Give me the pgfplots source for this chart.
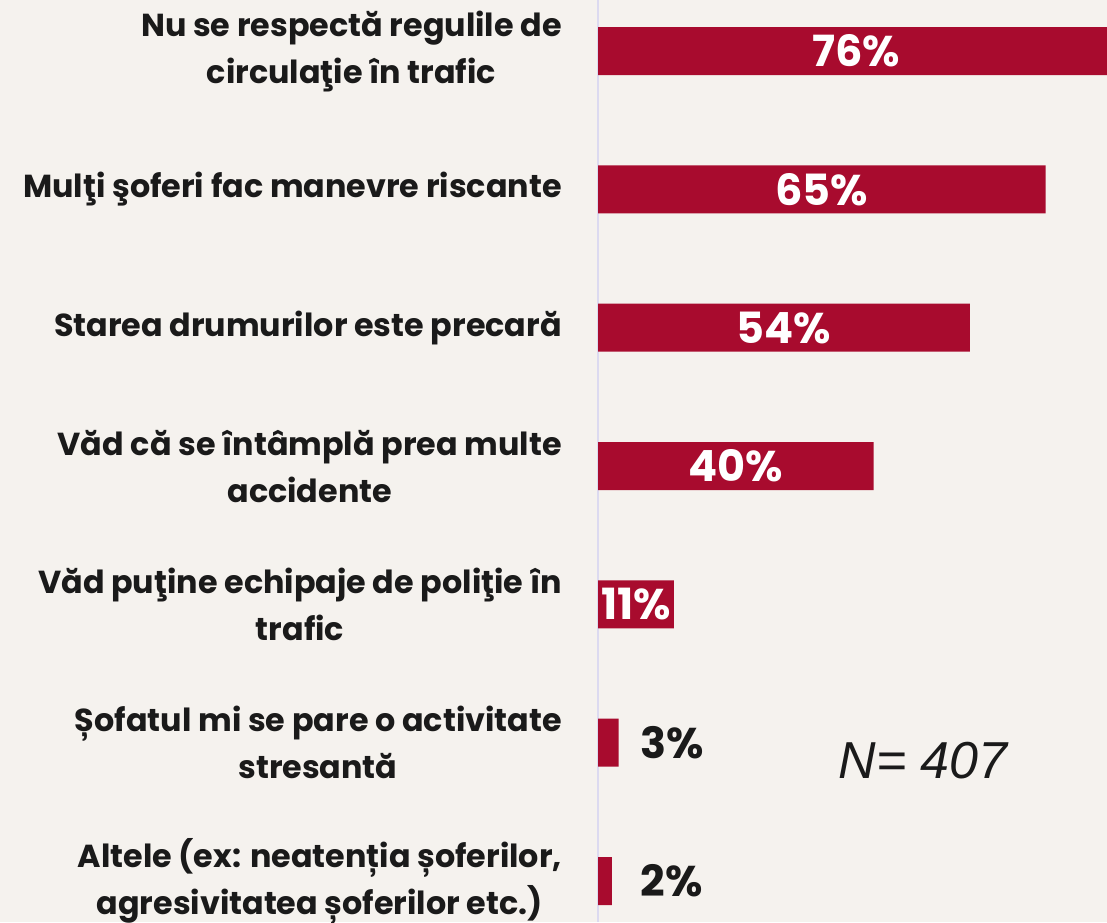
\documentclass[border=0pt]{standalone}
\usepackage{pgfplots}
\pgfplotsset{compat=1.18}
\usepackage{fontspec}
\newfontfamily\pop{Poppins}
\newfontfamily\nfont{Liberation Sans}
\definecolor{bg}{RGB}{245,242,238}
\definecolor{barc}{RGB}{168,11,46}
\definecolor{axc}{RGB}{220,218,240}
\definecolor{txt}{RGB}{26,26,26}
\begin{document}
\begin{tikzpicture}
\useasboundingbox (0,0) rectangle (1107pt,922pt);
\fill[bg] (0,0) rectangle (1107pt,922pt);
\begin{axis}[
  at={(598pt,0pt)}, anchor=south west,
  width=509pt, height=922pt, scale only axis,
  xmin=0, xmax=73.9,
  ymin=-0.369, ymax=6.296, y dir=reverse,
  axis x line=none,
  axis y line*=left,
  y axis line style={draw=axc, line width=1.5pt, -},
  xtick=\empty,
  ytick={0,1,2,3,4,5,6},
  major tick length=0pt,
  yticklabels={{Nu se respectă regulile de\\circulaţie în trafic},
               {Mulţi şoferi fac manevre riscante},
               {Starea drumurilor este precară},
               {Văd că se întâmplă prea multe\\accidente},
               {Văd puţine echipaje de poliţie în\\trafic},
               {Șofatul mi se pare o activitate\\stresantă},
               {Altele (ex: neatenția șoferilor,\\agresivitatea șoferilor etc.)}},
  yticklabel style={font=\pop\bfseries\fontsize{31.8}{47}\selectfont, text=txt,
                    align=center, anchor=east, inner sep=0pt, xshift=-36pt},
]
\addplot[xbar, bar shift=0pt, bar width=48pt, fill=barc, draw=none]
  coordinates {(76,0) (65,1) (54,2) (40,3) (11,4) (3,5) (2,6)};
\addplot[draw=none, mark=none, nodes near coords, point meta=explicit symbolic,
  nodes near coords style={text=white, anchor=center, inner sep=0pt,
    font=\pop\bfseries\fontsize{43}{43}\selectfont}]
  coordinates {(37.5,0)[76\%] (32.5,1)[65\%] (27,2)[54\%] (20,3)[40\%] (5.5,4)[11\%]};
\addplot[draw=none, mark=none, nodes near coords, point meta=explicit symbolic,
  nodes near coords style={text=txt, anchor=west, inner sep=0pt,
    font=\pop\bfseries\fontsize{43}{43}\selectfont}]
  coordinates {(6.2,5)[3\%] (6.2,6)[2\%]};
\node[font=\nfont\itshape\fontsize{52}{52}\selectfont, text=txt, anchor=center]
  at (axis cs:47.2,5.13) {N= 407};
\end{axis}
\end{tikzpicture}
\end{document}
